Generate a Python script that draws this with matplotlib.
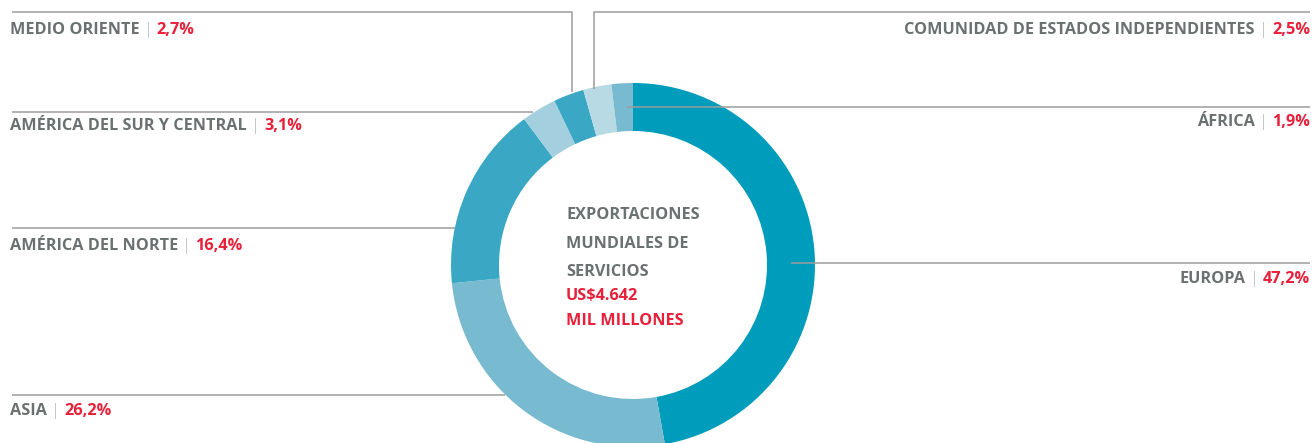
import matplotlib.pyplot as plt

# exportaciones mundiales de servicios por región (%)
regiones = ["EUROPA", "ASIA", "AMÉRICA DEL NORTE", "AMÉRICA DEL SUR Y CENTRAL",
            "MEDIO ORIENTE", "COMUNIDAD DE ESTADOS INDEPENDIENTES", "ÁFRICA"]
porcentajes = [47.2, 26.2, 16.4, 3.1, 2.7, 2.5, 1.9]
etiquetas = ["47,2%", "26,2%", "16,4%", "3,1%", "2,7%", "2,5%", "1,9%"]
colores = ["#009cbb", "#78bad0", "#3aa8c4", "#a4cfde", "#3aa8c4", "#b8dae5", "#78bad0"]

titulo = ["EXPORTACIONES", "MUNDIALES DE", "SERVICIOS"]
total = ["US$4.642", "MIL MILLONES"]

W, H = 1314, 443
GRIS = "#6b7171"
ROJO = "#e8203a"
LINEA = "#9c9c9c"
FUENTE = "Open Sans"
TAM = 11.7

fig = plt.figure(figsize=(W / 100, H / 100), dpi=100)
ax = fig.add_axes([0, 0, 1, 1])

def py(y):
    return H - y

cx, cy, R = 633, 265, 182
ax.pie(porcentajes, colors=colores, startangle=90, counterclock=False,
       center=(cx, py(cy)), radius=R, frame=True,
       wedgeprops=dict(width=48, linewidth=0))

ax.set_xlim(0, W)
ax.set_ylim(0, H)
ax.set_aspect("equal")
ax.axis("off")

# líneas guía: (región, trazo en píxeles, posición del texto, alineación)
guias = {
    "EUROPA": ([(791, 263), (1310, 263)], (1310, 279), "right"),
    "ASIA": ([(505, 395), (12, 395)], (10, 411), "left"),
    "AMÉRICA DEL NORTE": ([(455, 228), (12, 228)], (10, 246), "left"),
    "AMÉRICA DEL SUR Y CENTRAL": ([(533, 112), (12, 112)], (10, 126), "left"),
    "MEDIO ORIENTE": ([(572, 92), (572, 12), (12, 12)], (10, 30), "left"),
    "COMUNIDAD DE ESTADOS INDEPENDIENTES": ([(594, 89), (594, 12), (1310, 12)], (1310, 30), "right"),
    "ÁFRICA": ([(627, 107), (1310, 107)], (1310, 122), "right"),
}

kw = dict(fontsize=TAM, family=FUENTE, va="center")
for nombre, valor in zip(regiones, etiquetas):
    trazo, (tx, ty), ha = guias[nombre]
    xs = [p[0] for p in trazo]
    ys = [py(p[1]) for p in trazo]
    ax.plot(xs, ys, color=LINEA, lw=1.1, solid_capstyle="butt")
    if ha == "left":
        t = ax.text(tx, py(ty), nombre, color=GRIS, weight="bold", ha="left", **kw)
        t = ax.annotate(" | ", xy=(1, 0.5), xycoords=t, color="#b5b5b5",
                        weight="light", ha="left", **kw)
        ax.annotate(valor, xy=(1, 0.5), xycoords=t, color=ROJO,
                    weight="bold", ha="left", **kw)
    else:
        t = ax.text(tx, py(ty), valor, color=ROJO, weight="bold", ha="right", **kw)
        t = ax.annotate(" | ", xy=(0, 0.5), xycoords=t, color="#b5b5b5",
                        weight="light", ha="right", **kw)
        ax.annotate(nombre, xy=(0, 0.5), xycoords=t, color=GRIS,
                    weight="bold", ha="right", **kw)

# texto central
lineas_y = [215, 244, 272, 296, 321]
for linea, y in zip(titulo + total, lineas_y):
    color = GRIS if linea in titulo else ROJO
    ax.text(566, py(y), linea, color=color, weight="bold", ha="left",
            va="center", fontsize=TAM, family=FUENTE)

fig.savefig("out.png", dpi=100)
